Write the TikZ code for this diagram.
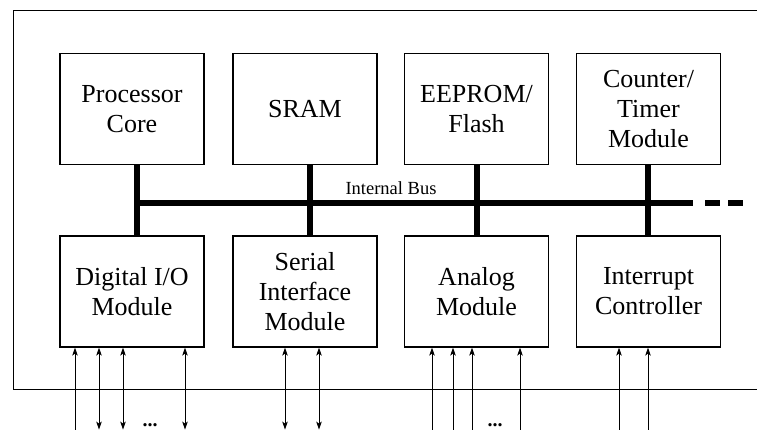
\documentclass[tikz,border=0pt]{standalone}
\usepackage{fontspec}
\setmainfont{Liberation Serif}
\usetikzlibrary{arrows.meta}
\begin{document}
\begin{tikzpicture}[x=1pt,y=-1pt,
  blk/.style={draw, line width=1.2pt, minimum width=144pt, minimum height=111pt,
    align=center, inner sep=0pt, font=\fontsize{26}{30}\selectfont},
  bus/.style={line width=6pt},
  sig/.style={line width=1pt, >={Stealth[length=8pt,width=5.5pt,inset=2pt]}},
  dots/.style={anchor=base, inner sep=0pt, font=\fontsize{20}{20}\selectfont\bfseries}]
\useasboundingbox (0,0) rectangle (757,430);
\clip (0,0) rectangle (757,430);
\fill[white] (0,0) rectangle (757,430);
\draw[line width=1pt] (13,11) rectangle (790,389);
% blocks
\node[blk] (pc)   at (132,109)   {Processor\\Core};
\node[blk] (sram) at (305,109)   {SRAM};
\node[blk] (ee)   at (476.5,109) {EEPROM/\\Flash};
\node[blk] (ct)   at (648.5,109) {Counter/\\Timer\\Module};
\node[blk] (dio)  at (132,291.5)   {Digital I/O\\Module};
\node[blk] (ser)  at (305,291.5)   {Serial\\Interface\\Module};
\node[blk] (ana)  at (476.5,291.5) {Analog\\Module};
\node[blk] (irq)  at (648.5,291.5) {Interrupt\\Controller};
% bus
\coordinate (busend) at (693,203);
\draw[bus] ([xshift=5]pc.south |- busend) -- (busend);
\draw[bus, dash pattern=on 15pt off 8pt] ([xshift=12]busend) -- ([xshift=50]busend);
\draw[bus] ([xshift=5]pc.south) -- ([xshift=5]dio.north);
\draw[bus] ([xshift=5]sram.south) -- ([xshift=5]ser.north);
\draw[bus] ([xshift=0.5]ee.south) -- ([xshift=0.5]ana.north);
\draw[bus] ([xshift=-0.5]ct.south) -- ([xshift=-0.5]irq.north);
\node[anchor=base, inner sep=0pt, font=\fontsize{18.5}{18.5}\selectfont] (buslbl) at (391,195) {Internal Bus};
% signals
\draw[sig,->]  ([xshift=-57]dio.south) ++(0,83) -- ([xshift=-57]dio.south);
\draw[sig,<->] ([xshift=-33]dio.south) ++(0,82) -- ([xshift=-33]dio.south);
\draw[sig,<->] ([xshift=-9]dio.south) ++(0,82) -- ([xshift=-9]dio.south);
\draw[sig,<->] ([xshift=53]dio.south) ++(0,82) -- ([xshift=53]dio.south);
\node[dots] (d1) at (150,426) {...};
\draw[sig,<->] ([xshift=-20]ser.south) ++(0,82) -- ([xshift=-20]ser.south);
\draw[sig,<->] ([xshift=14]ser.south) ++(0,82) -- ([xshift=14]ser.south);
\draw[sig,->]  ([xshift=-44.5]ana.south) ++(0,83) -- ([xshift=-44.5]ana.south);
\draw[sig,->]  ([xshift=-23.5]ana.south) ++(0,83) -- ([xshift=-23.5]ana.south);
\draw[sig,->]  ([xshift=-4.5]ana.south) ++(0,83) -- ([xshift=-4.5]ana.south);
\draw[sig,->]  ([xshift=43.5]ana.south) ++(0,83) -- ([xshift=43.5]ana.south);
\node[dots] (d2) at (495,426) {...};
\draw[sig,->]  ([xshift=-29.5]irq.south) ++(0,83) -- ([xshift=-29.5]irq.south);
\draw[sig,->]  ([xshift=-0.5]irq.south) ++(0,83) -- ([xshift=-0.5]irq.south);
\end{tikzpicture}
\end{document}
